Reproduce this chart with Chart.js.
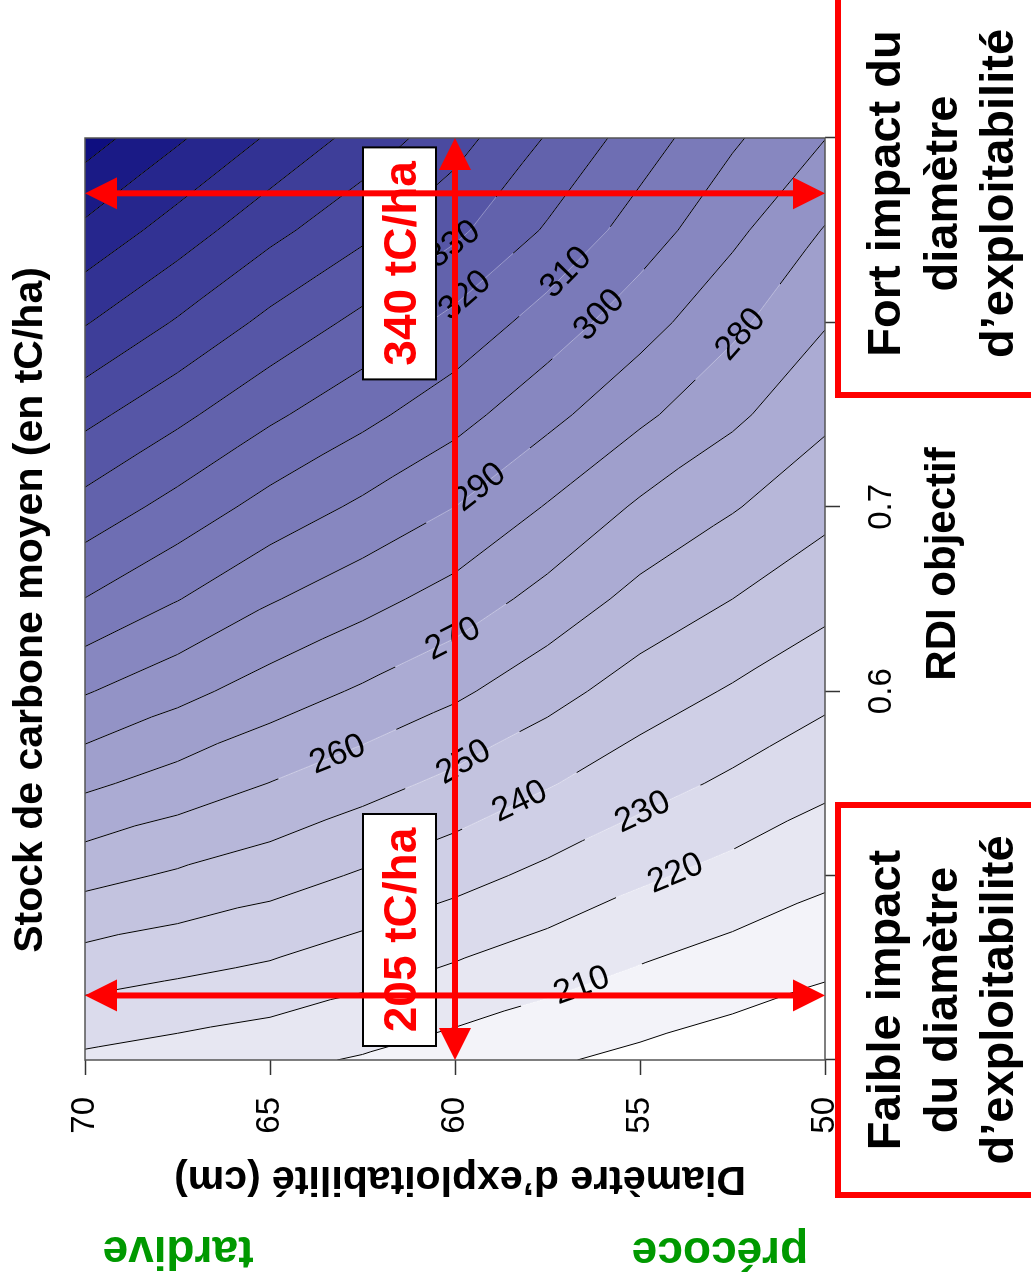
<!DOCTYPE html>
<html lang="fr">
<head>
<meta charset="utf-8">
<title>Stock de carbone moyen</title>
<script src="https://cdn.jsdelivr.net/npm/chart.js"></script>
<style>
  html, body { margin: 0; padding: 0; background: #fff; }
  body { width: 1031px; height: 1288px; overflow: hidden; position: relative; }
  /* the figure is drawn upright, then turned a quarter left like the scan */
  #wrap {
    position: absolute; left: 0; top: 0;
    width: 1288px; height: 1031px;
    transform-origin: 0 0;
    transform: translate(0, 1288px) rotate(-90deg);
  }
  #stockChart { width: 1288px; height: 1031px; }
</style>
</head>
<body>
<div id="wrap"><canvas id="stockChart" width="1288" height="1031"></canvas></div>

<script>
  // ---- data ----
  const rdi = [0.40, 0.45, 0.50, 0.55, 0.60, 0.65, 0.70, 0.75, 0.80, 0.85, 0.90];
  const diametre = [50, 52.5, 55, 57.5, 60, 62.5, 65, 67.5, 70];
  // carbon stock (tC/ha), one row per RDI value, one column per diameter
  const stock = [
    [191.2, 194.4, 197.7, 201.1, 205.0, 209.1, 212.4, 215.1, 218.0],
    [201.6, 205.6, 209.6, 214.4, 219.1, 224.0, 228.8, 232.0, 235.1],
    [211.9, 216.8, 221.6, 227.5, 233.4, 238.9, 244.3, 248.7, 253.1],
    [222.2, 228.2, 234.1, 240.8, 247.5, 253.7, 259.8, 265.9, 272.0],
    [232.7, 239.0, 245.3, 253.6, 261.9, 268.7, 275.4, 283.1, 290.8],
    [243.1, 250.0, 256.9, 266.5, 276.0, 283.5, 290.9, 300.4, 309.8],
    [253.0, 260.8, 268.5, 279.3, 290.0, 298.2, 306.4, 316.5, 326.5],
    [262.1, 272.1, 282.1, 292.9, 303.7, 312.8, 321.9, 332.5, 343.0],
    [270.7, 282.4, 294.1, 305.6, 317.1, 327.3, 337.4, 349.0, 360.7],
    [279.4, 292.4, 305.3, 318.8, 332.2, 342.6, 352.9, 365.4, 377.8],
    [290.2, 301.5, 315.1, 329.2, 343.9, 356.3, 368.7, 381.4, 394.5]
  ];
  const niveaux = [200, 210, 220, 230, 240, 250, 260, 270, 280, 290, 300, 310, 320, 330, 340, 350, 360, 370, 380, 390];
  const rdiTicks = [0.4, 0.5, 0.6, 0.7, 0.8, 0.9];
  const diamTicks = [50, 55, 60, 65, 70];

  // where the contour labels sit (rdi, diametre)
  const labelSpots = [
    { niveau: 210, rdi: 0.436, diam: 56.5 },
    { niveau: 220, rdi: 0.499, diam: 54.0 },
    { niveau: 230, rdi: 0.533, diam: 54.9 },
    { niveau: 240, rdi: 0.538, diam: 58.2 },
    { niveau: 250, rdi: 0.559, diam: 59.7 },
    { niveau: 260, rdi: 0.562, diam: 63.1 },
    { niveau: 270, rdi: 0.628, diam: 60.05 },
    { niveau: 280, rdi: 0.792, diam: 52.2 },
    { niveau: 290, rdi: 0.707, diam: 59.2 },
    { niveau: 300, rdi: 0.802, diam: 56.0 },
    { niveau: 310, rdi: 0.827, diam: 57.0 },
    { niveau: 320, rdi: 0.814, diam: 59.7 },
    { niveau: 330, rdi: 0.844, diam: 60.1 }
  ];

  // red arrows and the two value boxes
  const fleches = [
    { r1: 0.4, d1: 60, r2: 0.9, d2: 60 },
    { r1: 0.87, d1: 50, r2: 0.87, d2: 70 },
    { r1: 0.435, d1: 50, r2: 0.435, d2: 70 }
  ];
  const valeurs = [
    { texte: '340 tC/ha', rdi: 0.832, diam: 61.5 },
    { texte: '205 tC/ha', rdi: 0.4705, diam: 61.5 }
  ];

  const FONT = '"Liberation Sans", Arial, Helvetica, sans-serif';

  // linear interpolation on the two triangles of each grid cell
  function findCell(arr, v) {
    let i = 0;
    while (i < arr.length - 2 && v > arr[i + 1]) i++;
    return i;
  }
  function stockAt(r, d) {
    const i = findCell(rdi, r), j = findCell(diametre, d);
    const fv = (r - rdi[i]) / (rdi[i + 1] - rdi[i]);
    const fu = (d - diametre[j]) / (diametre[j + 1] - diametre[j]);
    const z00 = stock[i][j], z10 = stock[i][j + 1], z01 = stock[i + 1][j], z11 = stock[i + 1][j + 1];
    if (fu + fv <= 1) return z00 + fu * (z10 - z00) + fv * (z01 - z00);
    return z11 + (1 - fu) * (z01 - z11) + (1 - fv) * (z10 - z11);
  }

  // contour segments for one level, in data units, split by null points
  function segmentsFor(level) {
    const pts = [];
    for (let i = 0; i < rdi.length - 1; i++) {
      for (let j = 0; j < diametre.length - 1; j++) {
        const a = { x: rdi[i], y: diametre[j], z: stock[i][j] };
        const b = { x: rdi[i], y: diametre[j + 1], z: stock[i][j + 1] };
        const c = { x: rdi[i + 1], y: diametre[j], z: stock[i + 1][j] };
        const d = { x: rdi[i + 1], y: diametre[j + 1], z: stock[i + 1][j + 1] };
        [[a, b, c], [d, c, b]].forEach(tri => {
          const cut = [];
          for (let k = 0; k < 3; k++) {
            const p = tri[k], q = tri[(k + 1) % 3];
            const zp = p.z - level, zq = q.z - level;
            if ((zp < 0) !== (zq < 0)) {
              const t = zp / (zp - zq);
              cut.push({ x: p.x + t * (q.x - p.x), y: p.y + t * (q.y - p.y) });
            }
          }
          if (cut.length === 2) pts.push(cut[0], cut[1], { x: null, y: null });
        });
      }
    }
    return pts;
  }

  // fill colours: white -> dark blue, one shade per 10 tC/ha band
  const clair = [255, 255, 255], fonce = [14, 14, 128];
  const bandes = [];
  for (let k = 0; k <= niveaux.length; k++) {
    const t = k / niveaux.length;
    bandes.push(clair.map((c, n) => Math.round(c + (fonce[n] - c) * t)));
  }
  function bandIndex(z) {
    let k = 0;
    while (k < niveaux.length && z >= niveaux[k]) k++;
    return k;
  }

  function labelPlace(chart, spot) {
    const { x, y } = chart.scales;
    const zp = (px, py) => stockAt(x.getValueForPixel(px), y.getValueForPixel(py));
    let px = x.getPixelForValue(spot.rdi), py = y.getPixelForValue(spot.diam);
    let gx = 0, gy = 0;
    for (let it = 0; it < 4; it++) {
      gx = (zp(px + 3, py) - zp(px - 3, py)) / 6;
      gy = (zp(px, py + 3) - zp(px, py - 3)) / 6;
      const g2 = gx * gx + gy * gy;
      const dz = spot.niveau - zp(px, py);
      px += dz * gx / g2;
      py += dz * gy / g2;
    }
    let tx = -gy, ty = gx;
    if (tx < 0) { tx = -tx; ty = -ty; }
    return { px, py, angle: Math.atan2(ty, tx) };
  }

  const GAP = 64;

  const contourPlugin = {
    id: 'contourFill',
    beforeDatasetsDraw(chart) {
      const { ctx, chartArea: a, scales: { x, y } } = chart;
      const w = Math.round(a.right - a.left), h = Math.round(a.bottom - a.top);
      const img = ctx.createImageData(w, h);
      for (let py = 0; py < h; py++) {
        const d = y.getValueForPixel(a.top + py + 0.5);
        for (let px = 0; px < w; px++) {
          const r = x.getValueForPixel(a.left + px + 0.5);
          const c = bandes[bandIndex(stockAt(r, d))];
          const o = (py * w + px) * 4;
          img.data[o] = c[0]; img.data[o + 1] = c[1]; img.data[o + 2] = c[2]; img.data[o + 3] = 255;
        }
      }
      ctx.putImageData(img, Math.round(a.left), Math.round(a.top));

      // faint seams between the filled bands (visible where lines are cut)
      ctx.save();
      ctx.strokeStyle = 'rgba(255,255,255,0.32)';
      ctx.lineWidth = 1;
      chart.data.datasets.forEach(ds => {
        const pts = ds.data;
        ctx.beginPath();
        for (let k = 0; k + 1 < pts.length; k += 3) {
          ctx.moveTo(x.getPixelForValue(pts[k].x), y.getPixelForValue(pts[k].y));
          ctx.lineTo(x.getPixelForValue(pts[k + 1].x), y.getPixelForValue(pts[k + 1].y));
        }
        ctx.stroke();
      });
      ctx.restore();
    },
    beforeDatasetDraw(chart, args) {
      const lvl = chart.data.datasets[args.index].niveau;
      const spots = labelSpots.filter(s => s.niveau === lvl);
      if (!spots.length) return;
      const ctx = chart.ctx;
      ctx.save();
      ctx.beginPath();
      ctx.rect(0, 0, chart.width, chart.height);
      spots.forEach(s => {
        const p = labelPlace(chart, s);
        ctx.moveTo(p.px + GAP, p.py);
        ctx.arc(p.px, p.py, GAP, 0, Math.PI * 2);
      });
      ctx.clip('evenodd');
      args.meta.$cut = true;
    },
    afterDatasetDraw(chart, args) {
      if (args.meta.$cut) {
        chart.ctx.restore();
        args.meta.$cut = false;
      }
    },
    afterDatasetsDraw(chart) {
      const { ctx, chartArea: a } = chart;
      ctx.save();
      ctx.fillStyle = '#000';
      ctx.font = '34px ' + FONT;
      ctx.textAlign = 'center';
      ctx.textBaseline = 'middle';
      labelSpots.forEach(s => {
        const p = labelPlace(chart, s);
        ctx.save();
        ctx.translate(p.px, p.py);
        ctx.rotate(p.angle);
        ctx.fillText(String(s.niveau), 0, 0);
        ctx.restore();
      });
      // plot frame
      ctx.strokeStyle = '#555';
      ctx.lineWidth = 1.5;
      ctx.strokeRect(a.left, a.top, a.right - a.left, a.bottom - a.top);
      ctx.restore();
    }
  };

  function arrowHead(ctx, fx, fy, tx, ty) {
    const ang = Math.atan2(ty - fy, tx - fx);
    const len = 32, half = 16;
    ctx.beginPath();
    ctx.moveTo(tx, ty);
    ctx.lineTo(tx - len * Math.cos(ang) + half * Math.sin(ang), ty - len * Math.sin(ang) - half * Math.cos(ang));
    ctx.lineTo(tx - len * Math.cos(ang) - half * Math.sin(ang), ty - len * Math.sin(ang) + half * Math.cos(ang));
    ctx.closePath();
    ctx.fill();
  }

  const notesPlugin = {
    id: 'notes',
    afterDraw(chart) {
      const { ctx, scales: { x, y } } = chart;
      ctx.save();

      // titles
      ctx.fillStyle = '#000';
      ctx.textAlign = 'center';
      ctx.font = 'bold 41px ' + FONT;
      ctx.textBaseline = 'middle';
      ctx.fillText('Stock de carbone moyen (en tC/ha)', 678, 31);
      ctx.textBaseline = 'alphabetic';
      ctx.font = 'bold 42px ' + FONT;
      ctx.fillText('RDI objectif', 724, 955);

      ctx.save();
      ctx.translate(121, 460);
      ctx.rotate(-Math.PI / 2);
      ctx.font = 'bold 41px ' + FONT;
      ctx.fillText('Diamètre d\u2019exploitabilité (cm)', 0, 0);
      ctx.restore();

      ctx.fillStyle = '#009900';
      ctx.font = 'bold 46px ' + FONT;
      [['tardive', 51, 178], ['précoce', 50, 720]].forEach(([t, px, py]) => {
        ctx.save();
        ctx.translate(px, py);
        ctx.rotate(-Math.PI / 2);
        ctx.fillText(t, 0, 0);
        ctx.restore();
      });

      // value boxes
      valeurs.forEach(v => {
        const cx = x.getPixelForValue(v.rdi), cy = y.getPixelForValue(v.diam);
        ctx.fillStyle = '#fff';
        ctx.fillRect(cx - 116, cy - 36.5, 232, 73);
        ctx.strokeStyle = '#000';
        ctx.lineWidth = 2;
        ctx.strokeRect(cx - 116, cy - 36.5, 232, 73);
      });

      // arrows
      ctx.strokeStyle = '#ff0000';
      ctx.fillStyle = '#ff0000';
      ctx.lineWidth = 6;
      fleches.forEach(f => {
        const x1 = x.getPixelForValue(f.r1), y1 = y.getPixelForValue(f.d1);
        const x2 = x.getPixelForValue(f.r2), y2 = y.getPixelForValue(f.d2);
        const L = Math.hypot(x2 - x1, y2 - y1), ux = (x2 - x1) / L, uy = (y2 - y1) / L;
        ctx.beginPath();
        ctx.moveTo(x1 + ux * 28, y1 + uy * 28);
        ctx.lineTo(x2 - ux * 28, y2 - uy * 28);
        ctx.stroke();
        arrowHead(ctx, x1, y1, x2, y2);
        arrowHead(ctx, x2, y2, x1, y1);
      });

      ctx.fillStyle = '#ff0000';
      ctx.font = 'bold 46px ' + FONT;
      ctx.textBaseline = 'alphabetic';
      valeurs.forEach(v => {
        const cx = x.getPixelForValue(v.rdi), cy = y.getPixelForValue(v.diam);
        ctx.fillText(v.texte, cx, cy + 16.5);
      });

      // red boxes at the foot of the RDI axis
      const boites = [
        { left: 93, right: 483, lignes: ['Faible impact', 'du diamètre', 'd\u2019exploitabilité'] },
        { left: 893, right: 1296, lignes: ['Fort impact du', 'diamètre', 'd\u2019exploitabilité'] }
      ];
      boites.forEach(b => {
        ctx.fillStyle = '#fff';
        ctx.fillRect(b.left, 838, b.right - b.left, 260);
        ctx.strokeStyle = '#ff0000';
        ctx.lineWidth = 6;
        ctx.strokeRect(b.left, 838, b.right - b.left, 260);
        ctx.fillStyle = '#000';
        ctx.font = 'bold 47px ' + FONT;
        b.lignes.forEach((t, k) => ctx.fillText(t, (b.left + b.right) / 2, 900 + k * 56.5));
      });

      ctx.restore();
    }
  };

  const ctx = document.getElementById('stockChart').getContext('2d');

  new Chart(ctx, {
    type: 'scatter',
    data: {
      datasets: niveaux.map(n => ({
        niveau: n,
        data: segmentsFor(n),
        showLine: true,
        borderColor: '#000',
        borderWidth: 1,
        pointRadius: 0,
        fill: false
      }))
    },
    options: {
      responsive: false,
      animation: false,
      events: [],
      layout: { padding: { top: 85, right: 138, left: 0, bottom: 0 } },
      plugins: { legend: { display: false }, tooltip: { enabled: false } },
      scales: {
        x: {
          type: 'linear',
          position: 'bottom',
          min: 0.4,
          max: 0.9,
          afterBuildTicks: s => { s.ticks = rdiTicks.map(v => ({ value: v })); },
          afterFit: s => { s.height = 206; },
          grid: { drawOnChartArea: false, drawTicks: true, tickLength: 15, tickColor: '#333', tickWidth: 1.5 },
          border: { display: false },
          ticks: {
            color: '#000',
            font: { family: FONT, size: 33 },
            padding: 22,
            maxRotation: 0,
            autoSkip: false,
            callback: v => String(v)
          }
        },
        y: {
          type: 'linear',
          position: 'left',
          min: 50,
          max: 70,
          afterBuildTicks: s => { s.ticks = diamTicks.map(v => ({ value: v })); },
          afterFit: s => { s.width = 228; },
          grid: { drawOnChartArea: false, drawTicks: true, tickLength: 15, tickColor: '#333', tickWidth: 1.5 },
          border: { display: false },
          ticks: {
            color: '#000',
            font: { family: FONT, size: 33 },
            padding: 22,
            autoSkip: false,
            callback: v => String(v)
          }
        }
      }
    },
    plugins: [contourPlugin, notesPlugin]
  });
</script>
</body>
</html>
